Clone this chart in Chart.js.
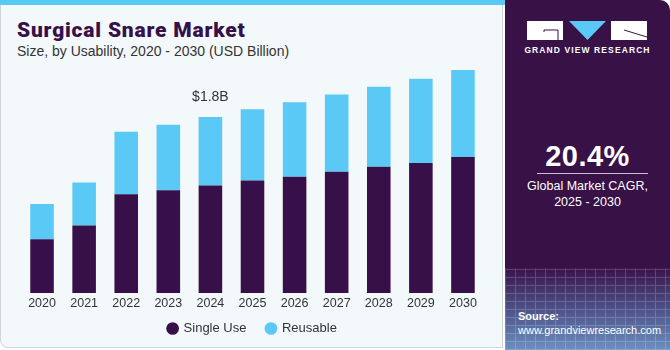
<!DOCTYPE html>
<html>
<head>
<meta charset="utf-8">
<script src="https://cdn.jsdelivr.net/npm/chart.js@4"></script>
<style>
  html, body { margin: 0; padding: 0; }
  body { width: 670px; height: 350px; position: relative; overflow: hidden; background: #ffffff; font-family: "Liberation Sans", Arial, sans-serif; }
  #left { position: absolute; left: 0; top: 0; width: 503px; height: 348px; background: #f3f8fb; border: 1px solid #d2d6da; border-top: none; border-radius: 0 0 0 8px; box-sizing: border-box; }
  #topbar { position: absolute; left: 0; top: 0; width: 505px; height: 5px; background: #5bc9f6; }
  #title { position: absolute; left: 17px; top: 18px; font-family: Roboto, "Liberation Sans", sans-serif; font-weight: 900; font-size: 21px; color: #37104a; letter-spacing: 0.8px; }
  #subtitle { position: absolute; left: 17px; top: 43px; font-size: 14px; color: #333333; }
  #wrap { position: absolute; left: 0; top: 0; width: 505px; height: 350px; }
  #right { position: absolute; left: 505px; top: 0; width: 165px; height: 350px; border-radius: 0 10px 0 0; overflow: hidden;
    background: linear-gradient(180deg, #381147 0%, #381147 76%, #4d4f86 88%, #6a90bf 100%); color: #fff; }
  #grid { position: absolute; left: 0; top: 268px; width: 165px; height: 82px; opacity: 0.18;
    background-image: repeating-linear-gradient(0deg, #ffffff 0 1px, transparent 1px 8px), repeating-linear-gradient(90deg, #ffffff 0 1px, transparent 1px 10px); }
  #brand { position: absolute; left: 0; width: 165px; top: 45px; text-align: center; font-size: 8.5px; font-weight: bold; letter-spacing: 1.1px; }
  #cagr { position: absolute; left: 0; width: 165px; top: 140px; text-align: center; font-size: 29px; font-weight: bold; letter-spacing: 0.5px; }
  #rule { position: absolute; left: 32px; width: 111px; top: 173px; height: 1px; background: #c9bfd0; }
  #cagrtxt { position: absolute; left: 0; width: 165px; top: 178px; text-align: center; font-size: 12.5px; line-height: 16px; }
  #source { position: absolute; left: 13px; top: 309px; font-size: 11px; line-height: 14px; }
</style>
</head>
<body>
<div id="left"></div>
<div id="topbar"></div>
<div id="title">Surgical Snare Market</div>
<div id="subtitle">Size, by Usability, 2020 - 2030 (USD Billion)</div>
<div id="wrap"><canvas id="chart" width="505" height="350"></canvas></div>
<div id="right">
  <svg style="position:absolute;left:22px;top:21px" width="121" height="20" viewBox="0 0 121 20">
    <rect x="0" y="0" width="36" height="19" fill="#ffffff"/>
    <polyline points="17,11 17,9 31,9 31,19" fill="none" stroke="#381147" stroke-width="1"/>
    <polygon points="42,0 79,0 60.5,19" fill="#5bc9f6"/>
    <rect x="84" y="0" width="36" height="19" fill="#ffffff"/>
    <line x1="97" y1="9" x2="120" y2="16" stroke="#381147" stroke-width="1"/>
  </svg>
  <div id="brand">GRAND VIEW RESEARCH</div>
  <div id="cagr">20.4%</div>
  <div id="rule"></div>
  <div id="cagrtxt">Global Market CAGR,<br>2025 - 2030</div>
  <div id="grid"></div>
  <div id="source"><b>Source:</b><br>www.grandviewresearch.com</div>
</div>
<script>
const years = ["2020", "2021", "2022", "2023", "2024", "2025", "2026", "2027", "2028", "2029", "2030"];
const singleUse = [0.55, 0.69, 1.01, 1.05, 1.10, 1.15, 1.19, 1.24, 1.29, 1.33, 1.39];
const reusable = [0.36, 0.44, 0.64, 0.67, 0.70, 0.73, 0.76, 0.79, 0.82, 0.86, 0.89];
const calloutIndex = 4;
const calloutText = "$1.8B";

const callout = {
    id: "callout",
    afterDatasetsDraw(chart) {
        const bar = chart.getDatasetMeta(1).data[calloutIndex];
        const c = chart.ctx;
        c.save();
        c.font = "14px 'Liberation Sans', Arial, sans-serif";
        c.fillStyle = "#333333";
        c.textAlign = "center";
        c.textBaseline = "bottom";
        c.fillText(calloutText, bar.x, bar.y - 13);
        c.restore();
    }
};

document.addEventListener("DOMContentLoaded", function () {
    const ctx = document.getElementById("chart").getContext("2d");

    new Chart(ctx, {
        type: "bar",
        data: {
            labels: years,
            datasets: [
                { label: "Single Use", data: singleUse, backgroundColor: "#37104a" },
                { label: "Reusable", data: reusable, backgroundColor: "#5bc9f6" }
            ]
        },
        options: {
            responsive: false,
            animation: false,
            layout: { padding: { left: 21, right: 21, top: 60, bottom: 5 } },
            datasets: { bar: { barPercentage: 0.56, categoryPercentage: 1.0 } },
            scales: {
                x: {
                    stacked: true,
                    grid: { display: false, drawTicks: false },
                    border: { display: false },
                    ticks: { color: "#333333", font: { size: 12.5, family: "'Liberation Sans', Arial, sans-serif" }, padding: 3 },
                    // labels run into the legend's empty top padding, so no clipping
                    afterFit: function (scale) {
                        scale.height = 9;
                        scale._computeLabelArea = function () {};
                    }
                },
                y: {
                    stacked: true,
                    display: false,
                    min: 0,
                    max: 2.383
                }
            },
            plugins: {
                legend: {
                    position: "bottom",
                    labels: {
                        usePointStyle: true,
                        pointStyle: "circle",
                        boxWidth: 9,
                        boxHeight: 9,
                        padding: 20,
                        color: "#333333",
                        font: { size: 13, family: "'Liberation Sans', Arial, sans-serif" }
                    }
                },
                tooltip: { enabled: false }
            }
        },
        plugins: [callout]
    });
});
</script>
</body>
</html>
